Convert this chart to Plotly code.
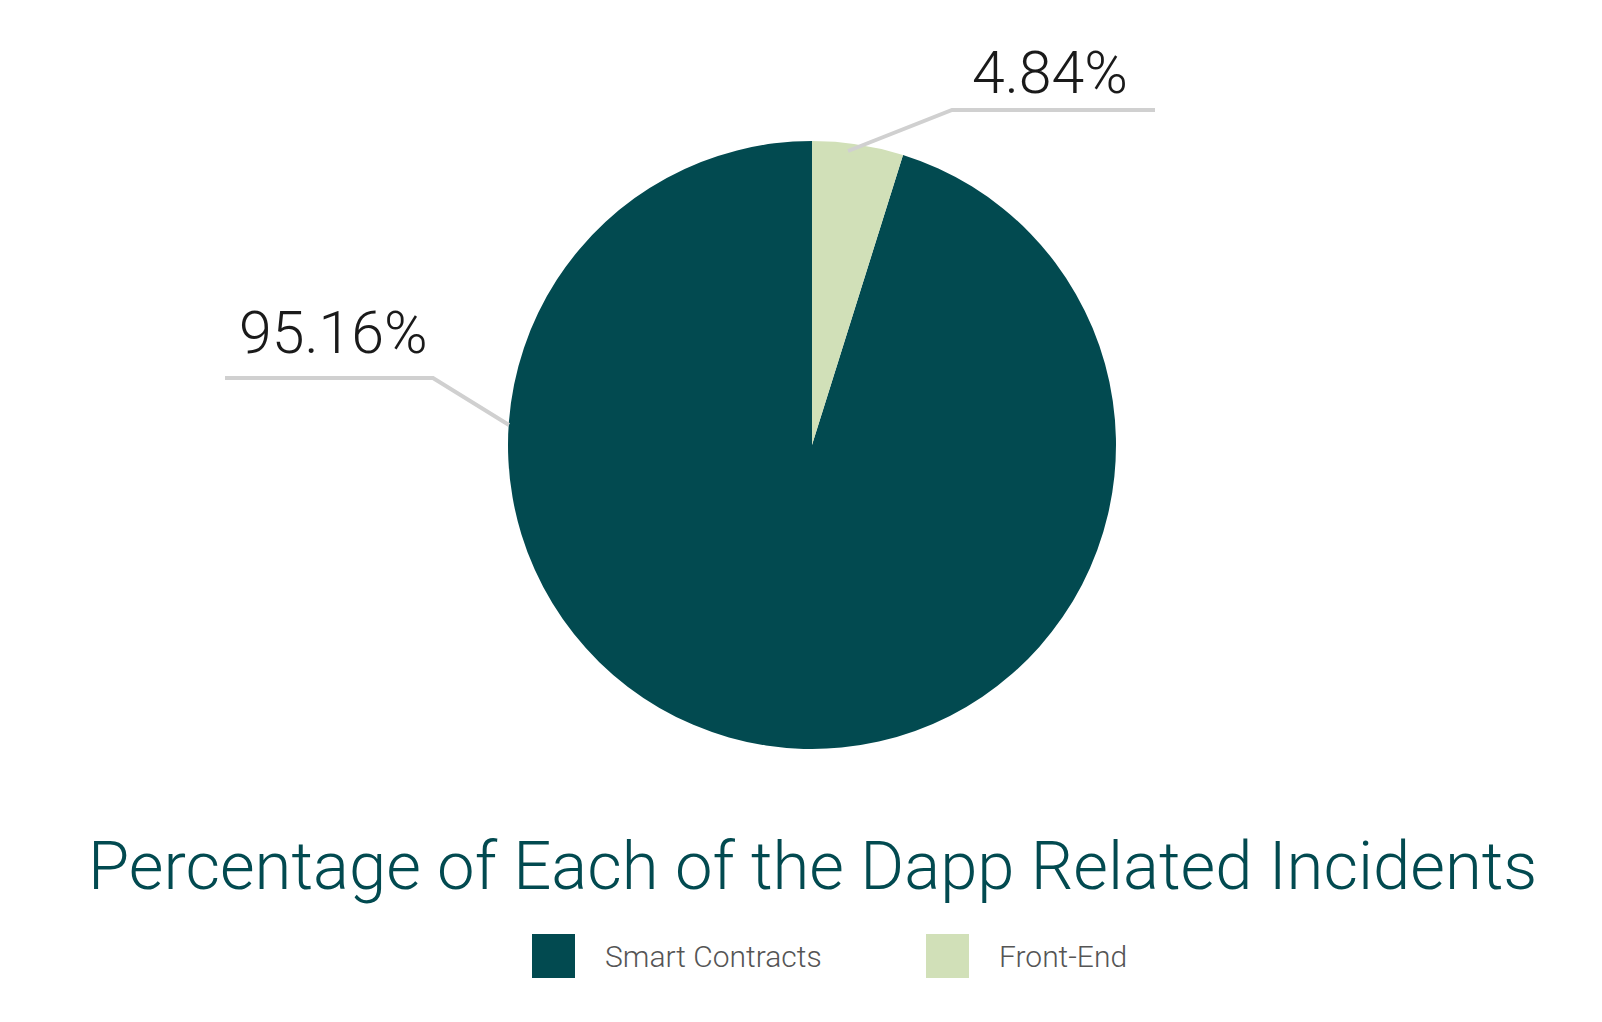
import plotly.graph_objects as go

labels = ["Smart Contracts", "Front-End"]
values = [95.16, 4.84]
colors = ["#024a50", "#d1e0b8"]
title_text = "Percentage of Each of the Dapp Related Incidents"

W, H = 1602, 1022
OFF = 8  # browser body margin
FONT = "Roboto"

def px(x):
    return (x - OFF) / W

def py(y):
    return 1 - (y - OFF) / H

cx, cy, r = 812, 445, 304

# Front-End slice sits just right of 12 o'clock: start Smart Contracts after it
rot = 360 * values[1] / sum(values)

fig = go.Figure(go.Pie(
    labels=labels, values=values, sort=False, direction="clockwise",
    rotation=rot, marker=dict(colors=colors, line=dict(width=0)),
    textinfo="none", hoverinfo="label+percent", showlegend=False,
    domain=dict(x=[px(cx - r), px(cx + r)], y=[py(cy + r), py(cy - r)]),
))

line_style = dict(color="#d0d0d0", width=4)
leaders = {
    "Smart Contracts": [(225, 378), (433, 378), (509, 425)],
    "Front-End": [(848, 151), (952, 110), (1155, 110)],
}
label_pos = {"Smart Contracts": (333, 332), "Front-End": (1050, 73)}

shapes = []
annotations = []
for lab, val in zip(labels, values):
    pts = leaders[lab]
    path = "M " + " L ".join(f"{px(x):.5f},{py(y):.5f}" for x, y in pts)
    shapes.append(dict(type="path", xref="paper", yref="paper", path=path, line=line_style))
    lx, ly = label_pos[lab]
    annotations.append(dict(x=px(lx), y=py(ly), xref="paper", yref="paper",
                            text=f"{val:.2f}%", showarrow=False, xanchor="center", yanchor="middle",
                            font=dict(family=FONT, size=59, color="#1a1a1a", weight=300)))

annotations.append(dict(x=px(812), y=py(866), xref="paper", yref="paper", text=title_text,
                        showarrow=False, xanchor="center", yanchor="middle",
                        font=dict(family=FONT, size=67, color="#024a50", weight=300)))

leg_x = [532, 926]
for i, (lab, col) in enumerate(zip(labels, colors)):
    x0 = leg_x[i]
    shapes.append(dict(type="rect", xref="paper", yref="paper", x0=px(x0), x1=px(x0 + 43),
                       y0=py(978), y1=py(934), fillcolor=col, line=dict(width=0)))
    annotations.append(dict(x=px(x0 + 71), y=py(956), xref="paper", yref="paper", text=lab,
                            showarrow=False, xanchor="left", yanchor="middle",
                            font=dict(family=FONT, size=30, color="#555555", weight=300)))

fig.update_layout(width=W, height=H, margin=dict(l=0, r=0, t=0, b=0),
                  paper_bgcolor="white", plot_bgcolor="white",
                  shapes=shapes, annotations=annotations)

fig.write_html("out.html")
